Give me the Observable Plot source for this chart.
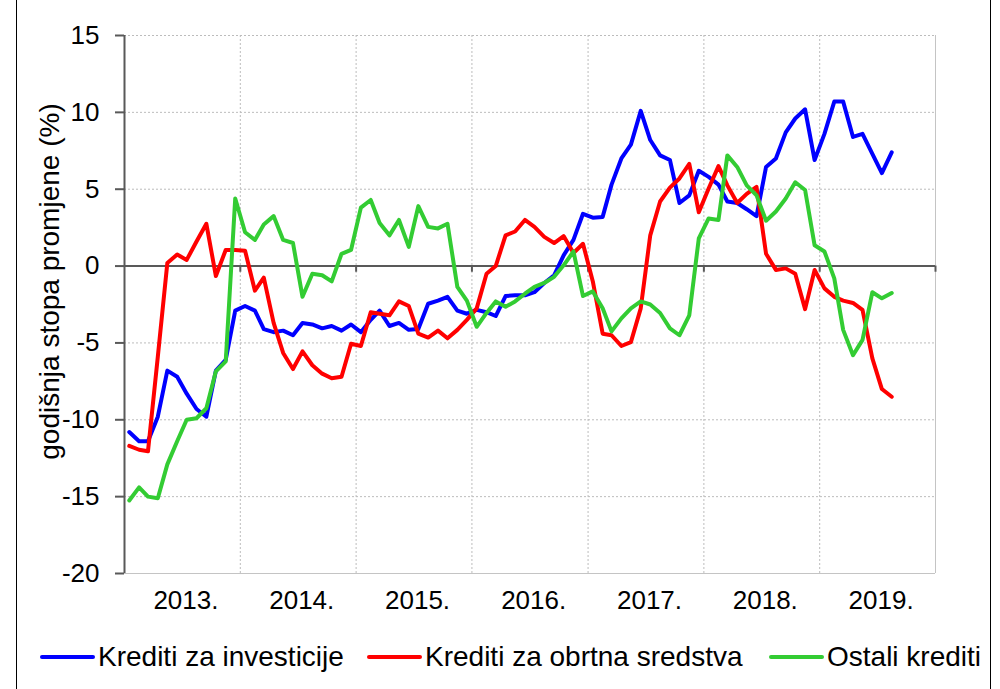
<!DOCTYPE html>
<html><head><meta charset="utf-8">
<script src="https://cdn.jsdelivr.net/npm/d3@7"></script>
<script src="https://cdn.jsdelivr.net/npm/@observablehq/plot@0.6"></script>
<style>
body{margin:0;background:#fff;font-family:"Liberation Sans",Arial,sans-serif;}
#wrap{position:relative;width:1000px;height:689px;overflow:hidden;background:#fff;}
#frame{position:absolute;left:16px;top:-2px;width:975px;height:694px;border:1px solid #000;box-sizing:border-box;pointer-events:none;}
#chart{position:absolute;left:0;top:0;}
#legend{position:absolute;left:0;top:643px;width:1000px;height:28px;font-size:28px;line-height:28px;color:#000;}
.item{position:absolute;top:0;display:flex;align-items:center;white-space:nowrap;}
.sw{display:inline-block;width:55px;height:4px;margin-right:3px;border-radius:2px;}
</style></head>
<body>
<div id="wrap"><div id="chart"></div><div id="legend"></div><div id="frame"></div></div>
<script>
const seriesNames = ["Krediti za investicije", "Krediti za obrtna sredstva", "Ostali krediti"];
const seriesColors = ["#0000ff", "#ff0000", "#33cc33"];
const yearLabels = ["2013.", "2014.", "2015.", "2016.", "2017.", "2018.", "2019."];
const yTicks = [-20, -15, -10, -5, 0, 5, 10, 15];
const yTitle = "godišnja stopa promjene (%)";
const startYear = 2013;

// monthly values, Jan 2013 - Aug 2019
const investicije = [
  -10.8, -11.4, -11.4, -9.8, -6.8, -7.2, -8.3, -9.3, -9.8, -6.8, -6.1, -2.9,
  -2.6, -2.9, -4.1, -4.3, -4.2, -4.5, -3.7, -3.8, -4.05, -3.9, -4.2, -3.8,
  -4.3, -3.5, -2.9, -3.9, -3.7, -4.15, -4.1, -2.45, -2.25, -2.0, -2.9, -3.1,
  -2.85, -3.0, -3.25, -1.95, -1.9, -1.9, -1.7, -1.1, -0.6, 0.7, 1.7, 3.4,
  3.15, 3.2, 5.3, 7.0, 7.9, 10.1, 8.2, 7.2, 6.9, 4.1, 4.6, 6.2,
  5.8, 5.3, 4.2, 4.1, 3.7, 3.25, 6.45, 7.0, 8.7, 9.6, 10.2, 6.9,
  8.6, 10.7, 10.7, 8.4, 8.6, 7.3, 6.05, 7.4
];
const obrtna = [
  -11.7, -11.95, -12.05, -5.9, 0.2, 0.75, 0.4, 1.6, 2.75, -0.65, 1.05, 1.05,
  1.0, -1.6, -0.75, -3.7, -5.65, -6.7, -5.55, -6.45, -7.0, -7.3, -7.2, -5.05,
  -5.2, -3.0, -3.1, -3.2, -2.3, -2.6, -4.4, -4.65, -4.2, -4.7, -4.15, -3.5,
  -2.75, -0.5, 0.0, 2.0, 2.25, 3.0, 2.55, 1.9, 1.5, 1.95, 0.85, 1.45,
  -1.0, -4.4, -4.5, -5.2, -4.95, -2.75, 2.0, 4.2, 5.1, 5.7, 6.65, 3.5,
  5.05, 6.5, 5.25, 4.1, 4.7, 5.15, 0.8, -0.25, -0.15, -0.5, -2.8, -0.25,
  -1.45, -2.0, -2.25, -2.4, -2.85, -6.0, -8.0, -8.5
];
const ostali = [
  -15.25, -14.4, -15.0, -15.1, -12.9, -11.4, -10.0, -9.9, -9.25, -6.85, -6.2, 4.4,
  2.2, 1.7, 2.7, 3.25, 1.7, 1.5, -2.0, -0.5, -0.6, -1.0, 0.8, 1.05,
  3.8, 4.3, 2.8, 2.0, 3.0, 1.25, 3.9, 2.55, 2.45, 2.75, -1.35, -2.25,
  -3.95, -3.05, -2.3, -2.65, -2.3, -1.8, -1.35, -1.1, -0.7, 0.05, 0.95, -1.95,
  -1.65, -2.75, -4.25, -3.4, -2.75, -2.3, -2.5, -3.05, -4.05, -4.5, -3.2, 1.8,
  3.1, 3.0, 7.2, 6.45, 5.25, 4.6, 2.95, 3.55, 4.4, 5.45, 4.95, 1.35,
  0.95, -0.8, -4.15, -5.8, -4.8, -1.7, -2.1, -1.75
];

const series = [investicije, obrtna, ostali];
const monthDate = i => new Date(Date.UTC(startYear, i, 16));
const yearStart = k => new Date(Date.UTC(startYear + k, 0, 1));
const yearMid = k => new Date(Date.UTC(startYear + k, 6, 1));
const nYears = yearLabels.length;
const bounds = d3.range(nYears + 1).map(yearStart);
const mids = d3.range(nYears).map(yearMid);
const grey = "#bcbcbc", dark = "#595959";

const chart = Plot.plot({
  width: 1000, height: 630,
  marginTop: 35, marginBottom: 57, marginLeft: 124, marginRight: 65,
  style: {fontFamily: "Liberation Sans, Arial, sans-serif", fontSize: "26px", color: "#000", background: "transparent", overflow: "visible"},
  x: {type: "utc", domain: [bounds[0], bounds[nYears]]},
  y: {domain: [-20, 15]},
  marks: [
    Plot.ruleY(yTicks.filter(v => v !== 0 && v !== -20), {stroke: grey, strokeDasharray: "2,2"}),
    Plot.ruleX(bounds.slice(1, nYears), {stroke: grey, strokeDasharray: "2,2"}),
    Plot.ruleY([-20], {stroke: "#c4c4c4"}),
    Plot.ruleX([bounds[nYears]], {stroke: "#c4c4c4"}),
    Plot.ruleX(bounds.slice(1), {y1: 0, y2: -0.4, stroke: dark, strokeWidth: 2}),
    Plot.ruleY([0], {stroke: dark, strokeWidth: 2}),
    Plot.ruleX([bounds[0]], {stroke: dark, strokeWidth: 2}),
    Plot.axisY({ticks: yTicks, tickSize: 9, tickPadding: 16, stroke: dark, strokeWidth: 2, label: null, fontSize: 26, tickFormat: d => String(d)}),
    Plot.axisX({ticks: mids, tickSize: 0, tickPadding: 17, tickFormat: d => yearLabels[d.getUTCFullYear() - startYear], label: null, dx: 4, fontSize: 26}),
    ...series.map((s, k) => Plot.line(s, {x: (d, i) => monthDate(i), y: d => d, stroke: seriesColors[k], strokeWidth: 4})),
    Plot.text([yTitle], {frameAnchor: "left", textAnchor: "middle", rotate: -90, dx: -74, dy: -23, fontSize: 28, fill: "#000"})
  ]
});
document.getElementById("chart").appendChild(chart);

const legend = document.getElementById("legend");
const lefts = [40, 367, 769];
seriesNames.forEach((name, k) => {
  const it = document.createElement("div");
  it.className = "item";
  it.style.left = lefts[k] + "px";
  const sw = document.createElement("span");
  sw.className = "sw";
  sw.style.background = seriesColors[k];
  const tx = document.createElement("span");
  tx.textContent = name;
  it.appendChild(sw); it.appendChild(tx);
  legend.appendChild(it);
});
</script>
</body></html>
